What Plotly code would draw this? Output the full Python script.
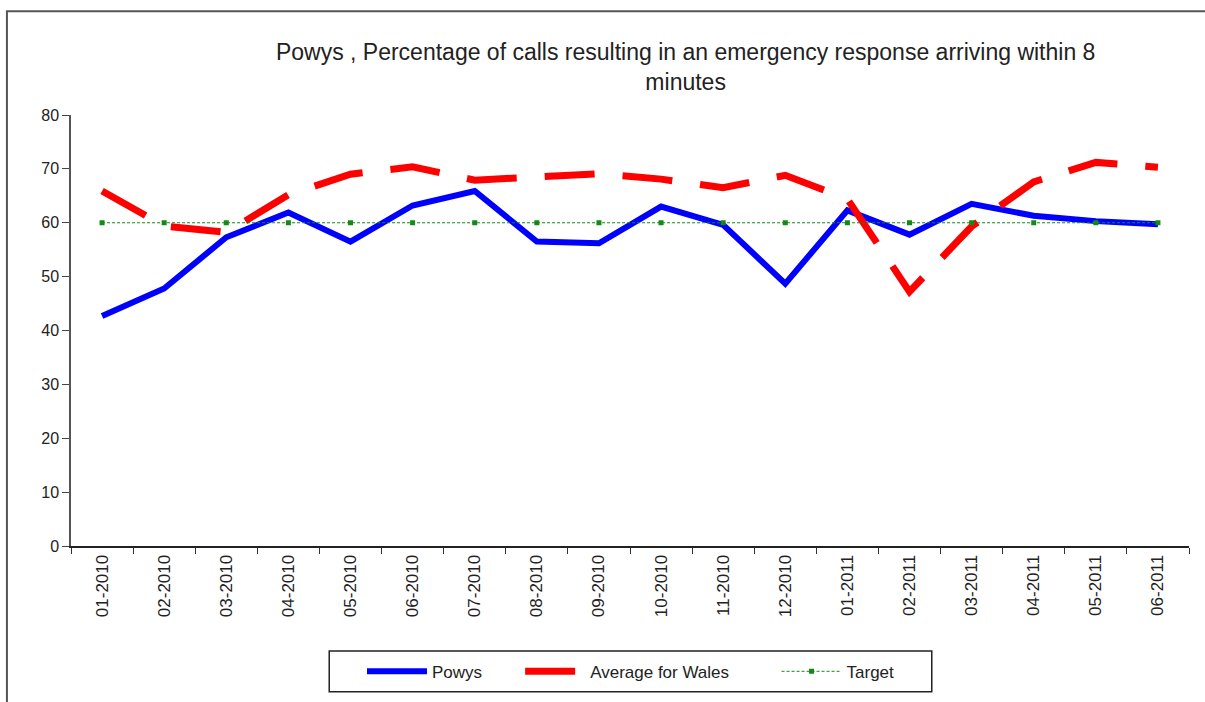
import plotly.graph_objects as go

# Monthly categories
months = ["01-2010", "02-2010", "03-2010", "04-2010", "05-2010", "06-2010",
          "07-2010", "08-2010", "09-2010", "10-2010", "11-2010", "12-2010",
          "01-2011", "02-2011", "03-2011", "04-2011", "05-2011", "06-2011"]

# Percentage of calls with an emergency response arriving within 8 minutes
powys = [42.7, 47.8, 57.3, 61.9, 56.5, 63.2, 65.9, 56.5, 56.2, 63.0,
         59.6, 48.7, 62.3, 57.8, 63.5, 61.3, 60.3, 59.7]
wales_avg = [65.9, 59.4, 58.2, 65.2, 69.0, 70.4, 67.9, 68.5, 69.1, 68.1,
             66.5, 68.8, 64.4, 47.2, 59.3, 67.6, 71.2, 70.3]
target = [60] * len(months)

y_ticks = [0, 10, 20, 30, 40, 50, 60, 70, 80]

FONT = "Liberation Sans, Arial, sans-serif"
TEXT = "#222222"
PAD = "\u00a0"  # non-breaking space used to widen legend entries

fig = go.Figure()

fig.add_trace(go.Scatter(
    x=months, y=powys, name="Powys" + PAD * 7, mode="lines",
    line=dict(color="#0000FF", width=6),
))
fig.add_trace(go.Scatter(
    x=months, y=wales_avg, name="Average for Wales" + PAD * 9, mode="lines",
    line=dict(color="#FF0000", width=7, dash="50px,28px"),
))
fig.add_trace(go.Scatter(
    x=months, y=target, name="Target", mode="lines+markers",
    line=dict(color="#138a13", width=1, dash="3px,2px"),
    marker=dict(symbol="square", size=5, color="#138a13"),
))

# outer frame around the whole chart
fig.add_shape(
    type="rect", xref="paper", yref="paper",
    x0=-0.0573, x1=1.3, y0=-0.6, y1=1.241,
    line=dict(color="#555555", width=2), fillcolor="rgba(0,0,0,0)",
    layer="below",
)
# legend frame
fig.add_shape(
    type="rect", xref="paper", yref="paper",
    x0=(330 - 72) / 1117, x1=(932 - 72) / 1117,
    y0=(550 - 697) / 435, y1=(550 - 656) / 435,
    line=dict(color="#222222", width=1.5), fillcolor="white",
    layer="below",
)

fig.update_layout(
    width=1205, height=702,
    margin=dict(l=71, r=16, t=115, b=152),
    paper_bgcolor="white", plot_bgcolor="white",
    font=dict(family=FONT, color=TEXT, size=16),
    title=dict(
        text="Powys , Percentage of calls resulting in an emergency response arriving within 8<br>minutes",
        x=0.569, xref="container", xanchor="center",
        y=0.915, yref="container", yanchor="top",
        font=dict(family=FONT, size=23, color=TEXT),
    ),
    showlegend=True,
    legend=dict(
        orientation="h", x=(362 - 71) / 1118, xanchor="left",
        y=-0.25, yanchor="top",
        borderwidth=0, bgcolor="rgba(0,0,0,0)",
        font=dict(family=FONT, size=17, color=TEXT),
        itemwidth=60,
    ),
)

fig.update_xaxes(
    type="category", tickangle=-90, tickson="boundaries",
    ticks="outside", ticklen=6, tickcolor="#333333",
    showline=True, linecolor="#222222", linewidth=2,
    showgrid=False, zeroline=False,
    tickfont=dict(family=FONT, size=17, color=TEXT),
    range=[-0.5, len(months) - 0.5],
)
fig.update_yaxes(
    range=[0, 80], tickvals=y_ticks, ticks="outside", ticklen=7,
    tickcolor="#444444", showline=True, linecolor="#555555", linewidth=1.5,
    showgrid=False, zeroline=False,
    tickfont=dict(family=FONT, size=16, color=TEXT),
)

fig.write_html("out.html")
